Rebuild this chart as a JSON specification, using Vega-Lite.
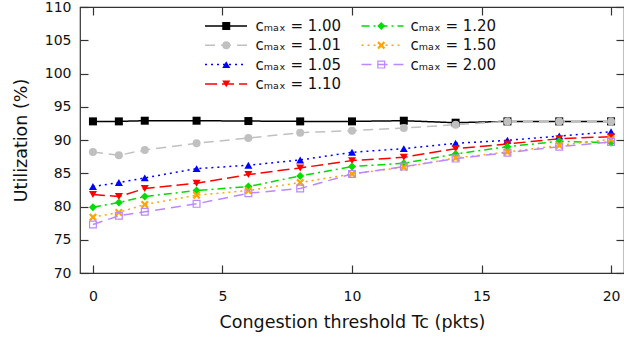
{
  "$schema": "https://vega.github.io/schema/vega-lite/v6.json",
  "width": 544,
  "height": 266,
  "autosize": {"type": "none"},
  "padding": {"left": 80, "top": 7, "right": 0, "bottom": 66},
  "config": {
    "font": "DejaVu Sans",
    "view": {"stroke": "#333333", "strokeWidth": 1.2},
    "axis": {"grid": false, "domain": false, "tickColor": "#333333", "tickWidth": 1.2, "tickSize": -8,
             "labelFont": "DejaVu Sans", "labelFontSize": 14, "labelColor": "#111111",
             "titleFont": "DejaVu Sans", "titleFontSize": 17.5, "titleFontWeight": "normal", "titleColor": "#111111"}
  },
  "data": {"values": [
    {"T":0,"U":92.8,"c":"1.00"},{"T":1,"U":92.8,"c":"1.00"},{"T":2,"U":92.9,"c":"1.00"},{"T":4,"U":92.9,"c":"1.00"},{"T":6,"U":92.85,"c":"1.00"},{"T":8,"U":92.8,"c":"1.00"},{"T":10,"U":92.8,"c":"1.00"},{"T":12,"U":92.9,"c":"1.00"},{"T":14,"U":92.6,"c":"1.00"},{"T":16,"U":92.8,"c":"1.00"},{"T":18,"U":92.8,"c":"1.00"},{"T":20,"U":92.8,"c":"1.00"},
    {"T":0,"U":88.2,"c":"1.01"},{"T":1,"U":87.7,"c":"1.01"},{"T":2,"U":88.5,"c":"1.01"},{"T":4,"U":89.5,"c":"1.01"},{"T":6,"U":90.3,"c":"1.01"},{"T":8,"U":91.1,"c":"1.01"},{"T":10,"U":91.4,"c":"1.01"},{"T":12,"U":91.8,"c":"1.01"},{"T":14,"U":92.3,"c":"1.01"},{"T":16,"U":92.8,"c":"1.01"},{"T":18,"U":92.8,"c":"1.01"},{"T":20,"U":92.8,"c":"1.01"},
    {"T":0,"U":83.0,"c":"1.05"},{"T":1,"U":83.6,"c":"1.05"},{"T":2,"U":84.3,"c":"1.05"},{"T":4,"U":85.7,"c":"1.05"},{"T":6,"U":86.2,"c":"1.05"},{"T":8,"U":87.0,"c":"1.05"},{"T":10,"U":88.15,"c":"1.05"},{"T":12,"U":88.7,"c":"1.05"},{"T":14,"U":89.5,"c":"1.05"},{"T":16,"U":89.95,"c":"1.05"},{"T":18,"U":90.6,"c":"1.05"},{"T":20,"U":91.25,"c":"1.05"},
    {"T":0,"U":81.8,"c":"1.10"},{"T":1,"U":81.5,"c":"1.10"},{"T":2,"U":82.7,"c":"1.10"},{"T":4,"U":83.5,"c":"1.10"},{"T":6,"U":84.8,"c":"1.10"},{"T":8,"U":85.8,"c":"1.10"},{"T":10,"U":86.9,"c":"1.10"},{"T":12,"U":87.4,"c":"1.10"},{"T":14,"U":88.7,"c":"1.10"},{"T":16,"U":89.4,"c":"1.10"},{"T":18,"U":90.2,"c":"1.10"},{"T":20,"U":90.5,"c":"1.10"},
    {"T":0,"U":79.9,"c":"1.20"},{"T":1,"U":80.6,"c":"1.20"},{"T":2,"U":81.5,"c":"1.20"},{"T":4,"U":82.4,"c":"1.20"},{"T":6,"U":83.0,"c":"1.20"},{"T":8,"U":84.6,"c":"1.20"},{"T":10,"U":86.0,"c":"1.20"},{"T":12,"U":86.5,"c":"1.20"},{"T":14,"U":87.9,"c":"1.20"},{"T":16,"U":89.0,"c":"1.20"},{"T":18,"U":89.8,"c":"1.20"},{"T":20,"U":89.6,"c":"1.20"},
    {"T":0,"U":78.4,"c":"1.50"},{"T":1,"U":79.1,"c":"1.50"},{"T":2,"U":80.3,"c":"1.50"},{"T":4,"U":81.7,"c":"1.50"},{"T":6,"U":82.4,"c":"1.50"},{"T":8,"U":83.6,"c":"1.50"},{"T":10,"U":84.9,"c":"1.50"},{"T":12,"U":85.9,"c":"1.50"},{"T":14,"U":87.3,"c":"1.50"},{"T":16,"U":88.2,"c":"1.50"},{"T":18,"U":89.2,"c":"1.50"},{"T":20,"U":90.1,"c":"1.50"},
    {"T":0,"U":77.3,"c":"2.00"},{"T":1,"U":78.6,"c":"2.00"},{"T":2,"U":79.2,"c":"2.00"},{"T":4,"U":80.4,"c":"2.00"},{"T":6,"U":82.0,"c":"2.00"},{"T":8,"U":82.7,"c":"2.00"},{"T":10,"U":84.9,"c":"2.00"},{"T":12,"U":86.0,"c":"2.00"},{"T":14,"U":87.2,"c":"2.00"},{"T":16,"U":88.1,"c":"2.00"},{"T":18,"U":89.0,"c":"2.00"},{"T":20,"U":89.7,"c":"2.00"}
  ]},
  "resolve": {"axis": {"x": "independent", "y": "independent"}},
  "layer": [
    {
      "mark": {"type": "line", "strokeWidth": 1.5},
      "encoding": {
        "x": {"field": "T", "type": "quantitative", "scale": {"domain": [-0.5, 20.5], "nice": false, "zero": false},
              "axis": {"orient": "bottom", "values": [0, 5, 10, 15, 20], "title": "Congestion threshold Tc (pkts)", "labelPadding": 24, "titlePadding": 10}},
        "y": {"field": "U", "type": "quantitative", "scale": {"domain": [70, 110], "nice": false, "zero": false},
              "axis": {"orient": "left", "values": [70, 75, 80, 85, 90, 95, 100, 105, 110], "title": "Utilization (%)", "labelPadding": 17, "titlePadding": 14}},
        "stroke": {"field": "c", "type": "nominal",
                   "scale": {"domain": ["1.00","1.01","1.05","1.10","1.20","1.50","2.00"],
                             "range": ["#000000","#c0c0c0","#0000ff","#ff0000","#00dd00","#ffa500","#bb88ff"]},
                   "legend": {"orient": "none", "legendX": 124, "legendY": 11, "columns": 2, "columnPadding": 112.5, "rowPadding": 3.3,
                              "clipHeight": 16, "symbolType": "stroke", "symbolSize": 1764, "symbolStrokeWidth": 1.5,
                              "labelExpr": "''", "labelOffset": 0, "title": null}},
        "strokeDash": {"field": "c", "type": "nominal",
                   "scale": {"domain": ["1.00","1.01","1.05","1.10","1.20","1.50","2.00"],
                             "range": [[1,0],[10,6],[2,4],[12,5],[8,4,2,4],[2,4],[10,6]]},
                   "legend": {"orient": "none", "legendX": 124, "legendY": 11, "columns": 2, "columnPadding": 112.5, "rowPadding": 3.3,
                              "clipHeight": 16, "symbolType": "stroke", "symbolSize": 1764, "symbolStrokeWidth": 1.5,
                              "labelExpr": "''", "labelOffset": 0, "title": null}}
      }
    },
    {
      "mark": {"type": "point", "filled": true, "size": 64, "opacity": 1, "strokeWidth": 0},
      "encoding": {
        "x": {"field": "T", "type": "quantitative", "axis": {"orient": "top", "values": [0, 5, 10, 15, 20], "labels": false, "title": null}},
        "y": {"field": "U", "type": "quantitative", "axis": {"orient": "right", "values": [70, 75, 80, 85, 90, 95, 100, 105, 110], "labels": false, "title": null}},
        "shape": {"field": "c", "type": "nominal",
                  "scale": {"range": ["square","circle","triangle-up","triangle-down","diamond",
                                      "M-1,-0.6L-0.6,-1L0,-0.4L0.6,-1L1,-0.6L0.4,0L1,0.6L0.6,1L0,0.4L-0.6,1L-1,0.6L-0.4,0Z",
                                      "M-1,-1H1V1H-1Z M-0.7,-0.7V0.7H0.7V-0.7Z"]},
                  "legend": {"orient": "none", "legendX": 138.75, "legendY": 11, "columns": 2, "columnPadding": 32, "rowPadding": 3.3,
                             "clipHeight": 16, "symbolSize": 64, "symbolStrokeWidth": 0, "labelOffset": 21.75,
                             "labelExpr": "'cₘₐₓ = ' + datum.label", "labelFont": "DejaVu Sans", "labelFontSize": 15, "labelFontWeight": "normal", "labelColor": "#111111", "title": null}},
        "fill": {"field": "c", "type": "nominal",
                 "scale": {"range": ["#000000","#c0c0c0","#0000ff","#ff0000","#00dd00","#ffa500","#bb88ff"]},
                 "legend": {"orient": "none", "legendX": 138.75, "legendY": 11, "columns": 2, "columnPadding": 32, "rowPadding": 3.3,
                            "clipHeight": 16, "symbolSize": 64, "symbolStrokeWidth": 0, "labelOffset": 21.75,
                            "labelExpr": "'cₘₐₓ = ' + datum.label", "labelFont": "DejaVu Sans", "labelFontSize": 15, "labelFontWeight": "normal", "labelColor": "#111111", "title": null}}
      }
    }
  ]
}
